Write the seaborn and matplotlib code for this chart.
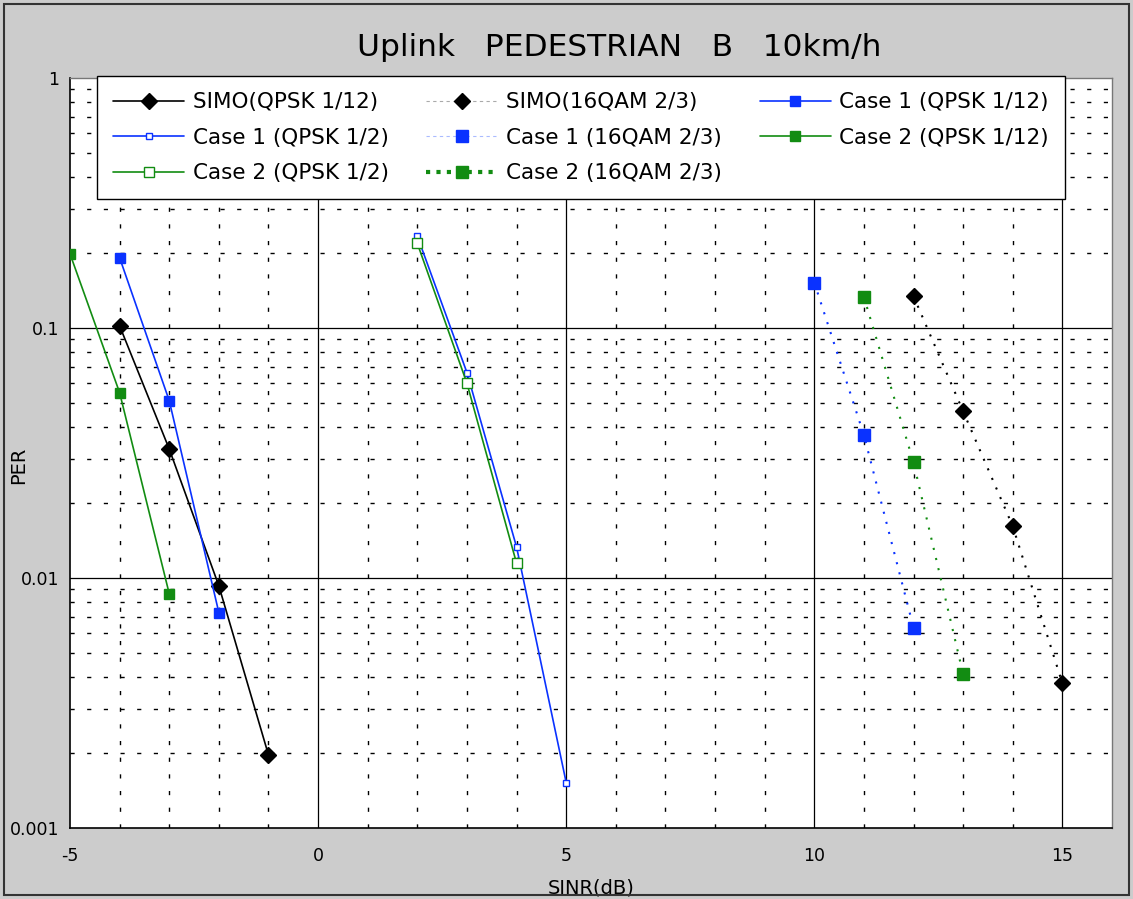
import numpy as np
import pandas as pd
import seaborn as sns
import matplotlib
matplotlib.use("Agg")
import matplotlib.pyplot as plt
from matplotlib.patches import Rectangle
from matplotlib.lines import Line2D
from matplotlib.ticker import FixedLocator, LogLocator, NullFormatter

# ---------------- data ----------------
simo_qpsk112_x = [-4, -3, -2, -1]
simo_qpsk112_y = [0.102, 0.0328, 0.0093, 0.00196]

simo_16qam_x = [12, 13, 14, 15]
simo_16qam_y = [0.134, 0.0464, 0.0161, 0.00379]

case1_qpsk112_x = [-4, -3, -2]
case1_qpsk112_y = [0.191, 0.0512, 0.00727]

case1_qpsk12_x = [2, 3, 4, 5]
case1_qpsk12_y = [0.233, 0.0663, 0.0133, 0.00152]

case1_16qam_x = [10, 11, 12]
case1_16qam_y = [0.152, 0.0373, 0.00633]

case2_qpsk112_x = [-5, -4, -3]
case2_qpsk112_y = [0.198, 0.0551, 0.00865]

case2_qpsk12_x = [2, 3, 4]
case2_qpsk12_y = [0.218, 0.0601, 0.01145]

case2_16qam_x = [11, 12, 13]
case2_16qam_y = [0.133, 0.029, 0.00412]

x_ticks = [-5, 0, 5, 10, 15]
y_ticks = [0.001, 0.01, 0.1, 1]
y_tick_labels = ["0.001", "0.01", "0.1", "1"]

title = "Uplink   PEDESTRIAN   B   10km/h"
x_label = "SINR(dB)"
y_label = "PER"

BLUE = "#0a32ff"
GREEN = "#128c12"
BLACK = "#000000"

series = [
    # label, x, y, color, linestyle, lw, marker, ms, mfc
    ("SIMO(QPSK 1/12)", simo_qpsk112_x, simo_qpsk112_y, BLACK, "-", 1.2, "D", 8, BLACK),
    ("SIMO(16QAM 2/3)", simo_16qam_x, simo_16qam_y, BLACK, (0, (1, 4)), 1.5, "D", 8, BLACK),
    ("Case 1 (QPSK 1/12)", case1_qpsk112_x, case1_qpsk112_y, BLUE, "-", 1.2, "s", 7, BLUE),
    ("Case 1 (QPSK 1/2)", case1_qpsk12_x, case1_qpsk12_y, BLUE, "-", 1.2, "s", 4, "white"),
    ("Case 1 (16QAM 2/3)", case1_16qam_x, case1_16qam_y, BLUE, (0, (1, 4)), 1.5, "s", 8, BLUE),
    ("Case 2 (QPSK 1/12)", case2_qpsk112_x, case2_qpsk112_y, GREEN, "-", 1.2, "s", 7, GREEN),
    ("Case 2 (QPSK 1/2)", case2_qpsk12_x, case2_qpsk12_y, GREEN, "-", 1.2, "s", 7, "white"),
    ("Case 2 (16QAM 2/3)", case2_16qam_x, case2_16qam_y, GREEN, (0, (1, 4)), 1.5, "s", 8, GREEN),
]

# legend-only line styles (as shown in the reference legend)
legend_styles = {
    "SIMO(16QAM 2/3)": ("#aaaaaa", (0, (3, 3)), 0.8),
    "Case 1 (16QAM 2/3)": ("#aabbff", (0, (3, 3)), 0.8),
    "Case 2 (16QAM 2/3)": (GREEN, (0, (1, 1.5)), 3.0),
}

# ---------------- figure ----------------
sns.set_theme(style="white")
plt.rcParams["font.family"] = ["DejaVu Sans"]
plt.rcParams["text.color"] = "black"
plt.rcParams["axes.labelcolor"] = "black"
plt.rcParams["xtick.color"] = "black"
plt.rcParams["ytick.color"] = "black"

fig = plt.figure(figsize=(11.33, 8.99), dpi=100, facecolor="#cccccc")
ax = fig.add_axes([70 / 1133, 1 - 828 / 899, (1112 - 70) / 1133, (828 - 78) / 899])
ax.set_facecolor("white")

handles = {}
for label, xs, ys, col, ls, lw, mk, ms, mfc in series:
    df = pd.DataFrame({"x": xs, "y": ys})
    sns.lineplot(data=df, x="x", y="y", ax=ax, color=col, linestyle=ls, linewidth=lw,
                 marker=mk, markersize=ms, markerfacecolor=mfc, markeredgecolor=col,
                 markeredgewidth=1.0, label=label, legend=False, zorder=5)
    line = ax.lines[-1]
    if label in legend_styles:
        lc, lls, llw = legend_styles[label]
        handles[label] = Line2D([], [], color=lc, linestyle=lls, linewidth=llw,
                                marker=mk, markersize=ms, markerfacecolor=mfc,
                                markeredgecolor=col)
    else:
        handles[label] = line

ax.set_yscale("log")
ax.set_xlim(-5, 16)
ax.set_ylim(0.001, 1)

# grids
for xv in range(-4, 16):
    if xv % 5 == 0:
        ax.axvline(xv, color="black", lw=0.9, zorder=1)
    else:
        ax.axvline(xv, color="black", lw=1.0, ls=(0, (3, 9)), zorder=1)
for dec in [0.001, 0.01, 0.1]:
    for m in range(2, 10):
        ax.axhline(dec * m, color="black", lw=1.0, ls=(0, (3, 9)), zorder=1)
for yv in [0.01, 0.1]:
    ax.axhline(yv, color="black", lw=0.9, zorder=1)

ax.set_xticks(x_ticks)
ax.set_xticklabels([str(v) for v in x_ticks], fontsize=12.5)
ax.xaxis.set_minor_locator(FixedLocator([v for v in range(-5, 17) if v % 5 != 0]))
ax.yaxis.set_major_locator(FixedLocator(y_ticks))
ax.set_yticklabels(y_tick_labels, fontsize=12.5)
ax.yaxis.set_minor_locator(LogLocator(base=10, subs=np.arange(2, 10)))
ax.yaxis.set_minor_formatter(NullFormatter())
ax.tick_params(axis="both", which="major", direction="in", length=0, pad=14)
ax.tick_params(axis="both", which="minor", direction="in", length=6, width=0.8)
ax.tick_params(axis="y", which="major", pad=8)

for s in ["left", "bottom"]:
    ax.spines[s].set_color("black")
    ax.spines[s].set_linewidth(1.2)
for s in ["top", "right"]:
    ax.spines[s].set_color("#777777")
    ax.spines[s].set_linewidth(1.0)

ax.set_xlabel(x_label, fontsize=14)
ax.set_ylabel(y_label, fontsize=14)
ax.xaxis.set_label_coords(0.5, -0.068)
ax.yaxis.set_label_coords(-0.040, 0.484)

fig.text(619 / 1133, 1 - 48 / 899, title, ha="center", va="center", fontsize=22.5)

# legend (row-major order in reference -> reorder for column fill)
order = ["SIMO(QPSK 1/12)", "Case 1 (QPSK 1/2)", "Case 2 (QPSK 1/2)",
         "SIMO(16QAM 2/3)", "Case 1 (16QAM 2/3)", "Case 2 (16QAM 2/3)",
         "Case 1 (QPSK 1/12)", "Case 2 (QPSK 1/12)"]
leg = ax.legend([handles[k] for k in order], order, ncol=3, loc="upper left",
                bbox_to_anchor=(97 / 1133, 1 - 193 / 899, (1065 - 97) / 1133, (193 - 76) / 899),
                bbox_transform=fig.transFigure, mode="expand", fontsize=15.5,
                frameon=True, fancybox=False, framealpha=1, edgecolor="black",
                handlelength=3.3, handletextpad=0.4, borderaxespad=0, labelspacing=0.72,
                borderpad=0.75, columnspacing=1.2)
leg.get_frame().set_linewidth(1.0)
leg.set_zorder(10)

fig.patches.append(Rectangle((4 / 1133, 4 / 899), 1 - 8 / 1133, 1 - 8 / 899,
                             transform=fig.transFigure, fill=False,
                             edgecolor="#333333", linewidth=1.5))

fig.savefig("out.png", dpi=100, facecolor=fig.get_facecolor())
